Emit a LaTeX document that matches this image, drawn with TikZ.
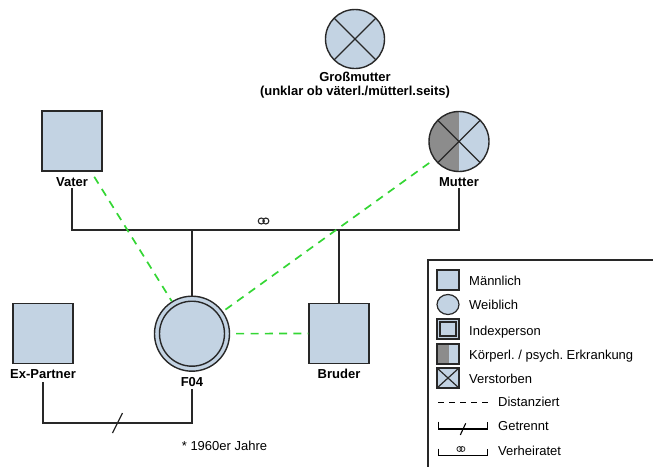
\documentclass[tikz,border=0pt]{standalone}
\usepackage{fontspec}
\setmainfont{Liberation Sans}
\usetikzlibrary{shapes.geometric,calc}
\frenchspacing

\definecolor{pblue}{RGB}{195,211,227}
\definecolor{illgray}{RGB}{140,140,140}
\definecolor{linecol}{RGB}{40,40,40}
\definecolor{distgreen}{RGB}{52,214,52}

\tikzset{
  x=1pt, y=-1pt,
  person/.style={draw=linecol, line width=1.4pt, fill=pblue, inner sep=0pt},
  male/.style={person, rectangle, minimum size=60pt},
  female/.style={person, circle, minimum size=60pt},
  deceased/.style={path picture={
      \draw[linecol, line width=1.2pt]
        (path picture bounding box.north west) -- (path picture bounding box.south east)
        (path picture bounding box.north east) -- (path picture bounding box.south west);}},
  illdeceased/.style={path picture={
      \fill[illgray] (path picture bounding box.south west) rectangle (path picture bounding box.north);
      \draw[linecol, line width=1.2pt]
        (path picture bounding box.north west) -- (path picture bounding box.south east)
        (path picture bounding box.north east) -- (path picture bounding box.south west);}},
  illhalf/.style={path picture={
      \fill[illgray] (path picture bounding box.south west) rectangle
        ($(path picture bounding box.north west)!0.55!(path picture bounding box.north east)$);}},
  namelbl/.style={font=\fontsize{13}{14}\selectfont\bfseries, anchor=base, inner sep=0pt},
  legtext/.style={font=\fontsize{13}{15}\selectfont, anchor=base west, inner sep=0pt},
  legsym/.style={person, line width=1.2pt, minimum width=22pt, minimum height=20pt},
  relline/.style={draw=linecol, line width=1.4pt},
  distline/.style={draw=distgreen, line width=1.7pt, dash pattern=on 8pt off 6.3pt, dash phase=-6pt},
  ringpair/.style={draw=linecol, line width=1.1pt},
}

\begin{document}
\begin{tikzpicture}
\useasboundingbox (0,0) rectangle (653,466);

% ---- persons ----
\node[female, deceased, minimum size=59pt] (gm) at (355,39) {};
\node[namelbl] (gml1) at (355,81.7) {Großmutter};
\node[namelbl] (gml2) at (355,95.5) {(unklar ob väterl./mütterl.seits)};

\node[male] (vater) at (72,141) {};
\node[namelbl] (vaterl) at (72,186) {Vater};

\node[female, illdeceased] (mutter) at (459,141.5) {};
\node[namelbl] (mutterl) at (459,186) {Mutter};

\node[female, minimum size=75pt] (f04) at (192,333.7) {};
\node[circle, draw=linecol, line width=1.4pt, minimum size=65pt, inner sep=0pt] (f04in) at (f04) {};
\node[namelbl] (f04l) at (192,386) {F04};

\node[male] (ex) at (43,333.7) {};
\node[namelbl] (exl) at (43,378) {Ex-Partner};

\node[male] (bruder) at (339,333.5) {};
\node[namelbl] (bruderl) at (339,378) {Bruder};

\node[font=\fontsize{13}{15}\selectfont, anchor=base, inner sep=0pt] (jahre) at (224.5,450) {* 1960er Jahre};

% ---- parents' marriage and children ----
\coordinate (pbar) at (0,230);
\draw[relline] ($(vaterl.south)+(0,2)$) -- (vaterl.south |- pbar)
  -| ($(mutterl.south)+(0,2)$);
\draw[relline] (f04.north) -- (f04.north |- pbar);
\draw[relline] (bruder.north) -- (bruder.north |- pbar);
\path (vaterl.south |- pbar) -- (mutterl.south |- pbar) coordinate[pos=0.495] (marr);
\draw[ringpair] ($(marr)+(-2.3,-9)$) circle [radius=3pt] ($(marr)+(2.3,-9)$) circle [radius=3pt];

% ---- separated couple ----
\coordinate (sbar) at (0,423);
\draw[relline] ($(exl.south)+(0,4)$) -- (exl.south |- sbar) -| ($(f04l.south)+(0,3)$);
\path (exl.south |- sbar) -- (f04l.south |- sbar) coordinate[midway] (sepmid);
\draw[relline, line width=1.2pt] ($(sepmid)+(-5,10)$) -- ($(sepmid)+(5,-10)$);

% ---- distanced relations ----
\draw[distline] (vater) -- (f04);
\draw[distline] (mutter) -- (f04);
\draw[distline] (f04) -- (bruder);

% ---- legend ----
\draw[draw=linecol, line width=1.3pt] (428,480) -- (428,260) -- (670,260);

\node[legsym, rectangle] (lm) at (448,280) {};
\node[legtext] at (469,285) {Männlich};

\node[legsym, ellipse] (lw) at (448,304.5) {};
\node[legtext] at (469,309.5) {Weiblich};

\node[legsym, rectangle] (li) at (448,329) {};
\node[draw=linecol, line width=1.1pt, rectangle, minimum width=16pt, minimum height=14pt, inner sep=0pt] at (li) {};
\node[legtext] at (469,335) {Indexperson};

\node[legsym, rectangle, illhalf] (lk) at (448,354) {};
\node[legtext] at (469,359) {Körperl. / psych. Erkrankung};

\node[legsym, rectangle, deceased] (lv) at (448,378) {};
\node[legtext] at (469,383.3) {Verstorben};

\coordinate (ldA) at (438,402.5);
\coordinate (ldB) at (488,402.5);
\draw[draw=black, line width=1.1pt, dash pattern=on 6pt off 5pt] (ldA) -- (ldB);
\node[legtext] at (498,406.5) {Distanziert};

\coordinate (lgA) at (438.5,429);
\coordinate (lgB) at (487.5,429);
\draw[draw=black, line width=1.1pt] ($(lgA)+(0,-7.5)$) -- (lgA) -- (lgB) -- ($(lgB)+(0,-7.5)$);
\draw[draw=black, line width=1.1pt] (460.3,435) -- (465.7,423.3);
\node[legtext] at (498,430.5) {Getrennt};

\coordinate (lhA) at (438.5,455.5);
\coordinate (lhB) at (487.5,455.5);
\draw[draw=black, line width=1.1pt] ($(lhA)+(0,-7)$) -- (lhA) -- (lhB) -- ($(lhB)+(0,-7)$);
\draw[ringpair, line width=0.8pt] (459.4,449) circle [radius=2.5pt] (462.4,449) circle [radius=2.5pt];
\node[legtext] at (498,455) {Verheiratet};
\end{tikzpicture}
\end{document}
